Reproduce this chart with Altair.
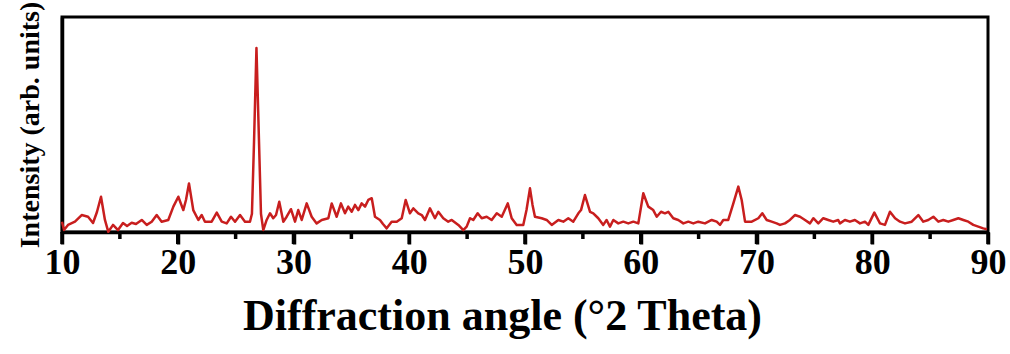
import altair as alt
import pandas as pd

# XRD pattern: diffraction angle (degrees 2θ) and relative intensity
two_theta = [
    10.00, 10.17, 10.52, 11.12, 11.70, 12.25, 12.68, 13.02, 13.37, 13.71,
    14.00, 14.41, 14.84, 15.27, 15.62, 16.02, 16.39, 16.89, 17.32, 17.75,
    18.18, 18.61, 19.18, 19.62, 20.05, 20.48, 20.71, 20.97, 21.34, 21.78,
    22.07, 22.35, 22.93, 23.37, 23.80, 24.23, 24.60, 24.95, 25.38, 25.81,
    26.24, 26.41, 26.59, 26.80, 27.02, 27.19, 27.39, 27.68, 27.97, 28.25,
    28.49, 28.77, 29.12, 29.41, 29.78, 30.13, 30.41, 30.71, 31.14, 31.57,
    32.00, 32.44, 33.01, 33.30, 33.73, 34.10, 34.45, 34.73, 35.03, 35.31,
    35.60, 35.89, 36.18, 36.46, 36.76, 37.04, 37.47, 37.73, 38.05, 38.48,
    38.92, 39.35, 39.69, 40.06, 40.35, 40.78, 41.08, 41.36, 41.79, 42.22,
    42.51, 42.94, 43.37, 43.67, 44.24, 44.67, 44.96, 45.25, 45.53, 45.91,
    46.26, 46.69, 47.12, 47.56, 47.99, 48.51, 48.85, 49.28, 49.85, 50.13,
    50.43, 50.65, 50.86, 51.44, 51.87, 52.31, 52.88, 53.31, 53.74, 54.17,
    54.61, 54.84, 55.18, 55.62, 55.90, 56.33, 56.76, 57.05, 57.34, 57.63,
    58.06, 58.49, 58.92, 59.36, 59.79, 60.22, 60.65, 61.08, 61.38, 61.75,
    62.09, 62.38, 62.81, 63.24, 63.68, 64.11, 64.54, 64.97, 65.55, 66.13,
    66.56, 66.85, 67.13, 67.56, 68.00, 68.43, 68.72, 69.01, 69.59, 70.16,
    70.50, 70.88, 71.31, 71.74, 72.03, 72.46, 72.89, 73.32, 73.76, 74.19,
    74.62, 74.91, 75.34, 75.77, 76.20, 76.63, 77.06, 77.21, 77.64, 78.07,
    78.50, 78.94, 79.37, 79.66, 80.18, 80.67, 81.10, 81.53, 81.97, 82.40,
    82.83, 83.41, 83.98, 84.41, 84.84, 85.28, 85.71, 86.14, 86.57, 87.00,
    87.44, 87.87, 88.30, 88.73, 89.16, 89.59, 89.91,
]
intensity = [
    4.8, 0.9, 3.3, 4.8, 7.9, 7.1, 4.2, 9.3, 16.4, 5.6,
    0.1, 3.3, 0.9, 4.2, 2.8, 4.3, 3.7, 5.6, 3.3, 4.8,
    7.9, 4.8, 5.6, 11.8, 16.4, 10.2, 14.9, 22.6, 10.2, 5.6,
    7.9, 4.8, 4.8, 9.0, 4.8, 4.0, 7.1, 4.8, 7.9, 4.8,
    4.8, 8.5, 42.0, 85.6, 42.0, 8.5, 0.9, 5.6, 8.7, 6.4,
    7.9, 14.1, 4.8, 7.1, 10.6, 4.8, 10.2, 5.6, 13.3, 7.1,
    4.0, 5.6, 6.4, 13.3, 7.1, 13.3, 8.7, 11.8, 9.4, 12.6,
    10.2, 13.3, 11.8, 14.9, 15.7, 7.1, 5.6, 3.7, 1.7, 4.8,
    4.8, 6.4, 14.9, 8.7, 11.0, 8.7, 7.9, 5.6, 11.0, 6.4,
    9.4, 6.4, 4.8, 5.6, 3.3, 0.9, 2.5, 6.4, 5.6, 8.7,
    6.4, 7.1, 5.6, 8.7, 7.1, 13.3, 6.4, 3.3, 3.3, 10.2,
    20.3, 12.6, 7.1, 6.4, 5.6, 3.3, 5.6, 4.8, 6.4, 4.8,
    8.7, 10.2, 17.2, 9.4, 8.7, 6.4, 3.3, 5.6, 2.5, 5.6,
    4.0, 4.8, 4.0, 4.8, 4.0, 18.0, 11.8, 10.2, 7.1, 9.4,
    8.7, 9.4, 6.4, 5.6, 4.0, 4.8, 4.0, 4.8, 4.0, 5.6,
    4.8, 3.3, 5.6, 5.6, 13.3, 21.1, 14.9, 4.8, 4.8, 6.4,
    8.7, 5.6, 4.8, 4.0, 3.3, 4.0, 5.6, 7.9, 7.1, 5.6,
    4.0, 6.4, 4.0, 6.4, 5.6, 4.8, 5.6, 4.0, 5.6, 4.8,
    5.6, 4.0, 4.8, 3.3, 9.0, 4.0, 3.3, 9.4, 6.4, 4.8,
    4.0, 4.8, 7.9, 4.8, 5.6, 7.1, 4.8, 5.6, 4.8, 5.6,
    6.4, 5.6, 4.8, 3.3, 2.5, 1.7, 1.3,
]

# labelled major ticks every 10 degrees, minor ticks halfway between
major_ticks = list(range(10, 91, 10))
minor_ticks = list(range(15, 90, 10))

df = pd.DataFrame({"two_theta": two_theta, "intensity": intensity})
major_df = pd.DataFrame({"tick": major_ticks})
minor_df = pd.DataFrame({"tick": minor_ticks})

PLOT_W, PLOT_H = 926, 215
serif = "Liberation Serif"
x_scale = alt.Scale(domain=[10, 90], nice=False, zero=False)
y_scale = alt.Scale(domain=[0, 100], nice=False, zero=True)

trace = (
    alt.Chart(df)
    .mark_line(color="#c81e1e", strokeWidth=2.5, strokeJoin="round")
    .encode(
        x=alt.X(
            "two_theta:Q",
            scale=x_scale,
            axis=alt.Axis(
                orient="bottom",
                values=major_ticks,
                labelFlush=False,
                labelOverlap=False,
                ticks=True,
                tickSize=12,
                tickColor="black",
                tickWidth=3.5,
                domainColor="black",
                domainWidth=3.5,
                title="Diffraction angle (°2 Theta)",
                titleFontSize=44,
                titlePadding=14,
                titleX=440,
                labelFontSize=36,
                labelPadding=1,
                grid=False,
            ),
        ),
        y=alt.Y(
            "intensity:Q",
            scale=y_scale,
            axis=alt.Axis(
                title="Intensity (arb. units)",
                labels=False,
                ticks=False,
                grid=False,
                domainColor="black",
                domainWidth=3.5,
                titleFontSize=28,
                titlePadding=18,
            ),
        ),
    )
)

# outward tick marks hanging below the bottom axis line
major_marks = (
    alt.Chart(major_df)
    .mark_rule(color="black", strokeWidth=3.5)
    .encode(
        x=alt.X("tick:Q", scale=x_scale, axis=None),
        y=alt.value(PLOT_H),
        y2=alt.value(PLOT_H + 12),
    )
)
minor_marks = (
    alt.Chart(minor_df)
    .mark_rule(color="black", strokeWidth=3.5)
    .encode(
        x=alt.X("tick:Q", scale=x_scale, axis=None),
        y=alt.value(PLOT_H),
        y2=alt.value(PLOT_H + 7),
    )
)

chart = (
    alt.layer(trace, major_marks, minor_marks)
    .resolve_axis(x="independent")
    .properties(
        width=PLOT_W,
        height=PLOT_H,
        autosize=alt.AutoSizeParams(type="none"),
        padding={"left": 62, "top": 17, "right": 22, "bottom": 122},
    )
    .configure_view(stroke="black", strokeWidth=3)
    .configure_axis(
        labelFont=serif,
        labelFontWeight="bold",
        labelColor="black",
        titleFont=serif,
        titleFontWeight="bold",
        titleColor="black",
    )
)

chart.save("out.html", embed_options={"renderer": "svg", "actions": False})
